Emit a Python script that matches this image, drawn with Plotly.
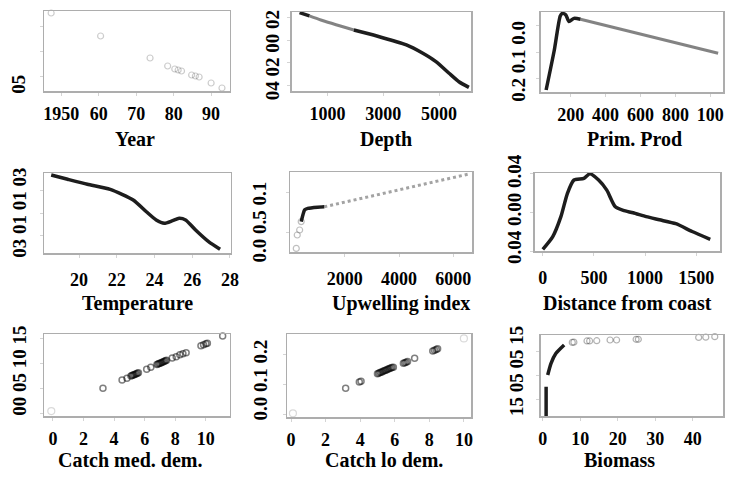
import plotly.graph_objects as go

W, H = 732, 477

# ---------------- data ----------------
year = [1947.3, 1960.5, 1973.7, 1978.4, 1980.3, 1981.2, 1982.1, 1984.8, 1985.8, 1986.8, 1990.0, 1992.9]
year_effect = [7.6, 3.0, -1.4, -3.0, -3.6, -3.8, -4.0, -4.8, -5.0, -5.2, -6.4, -7.4]

depth = [0, 353, 763, 1943, 2767, 3827, 4417, 4887, 5357, 5710, 6067]
depth_effect = [0.244, 0.215, 0.179, 0.09, 0.037, -0.042, -0.116, -0.19, -0.293, -0.368, -0.418]

prim_prod = [59, 106, 140, 153, 172, 190, 219, 256, 1045]
prim_prod_effect = [-0.2425, -0.0925, 0.035, 0.045, 0.039, 0.014, 0.026, 0.023, -0.105]

temperature = [18.52, 19.39, 20.44, 21.65, 22.87, 23.57, 24.09, 24.52, 24.96, 25.31, 25.65, 26.18, 26.87, 27.48]
temperature_effect = [0.3325, 0.295, 0.251, 0.207, 0.114, 0.011, -0.061, -0.09, -0.067, -0.046, -0.061, -0.149, -0.251, -0.318]

upwelling = [211, 247, 335, 393, 455, 516, 636, 1000, 1244, 6575]
upwelling_effect = [-0.041, -0.0075, 0.005, 0.026, 0.0425, 0.055, 0.059, 0.062, 0.063, 0.145]

distance = [0, 96, 177, 241, 305, 402, 460, 546, 626, 707, 787, 883, 1012, 1141, 1301, 1461, 1638]
distance_effect = [-0.048, -0.032, -0.006, 0.024, 0.041, 0.043, 0.049, 0.041, 0.028, 0.007, 0.002,
                   -0.001, -0.006, -0.010, -0.015, -0.025, -0.035]

catch_med = [-0.11, 3.27, 4.52, 4.84, 5.1, 5.17, 5.24, 5.31, 5.38, 5.45, 5.52, 5.59, 6.13, 6.4,
             6.8, 6.87, 6.94, 7.01, 7.08, 7.15, 7.22, 7.29, 7.36, 7.43, 7.8, 8.06, 8.3, 8.5, 8.71,
             9.68, 9.85, 10.0, 10.1, 11.1]
catch_med_effect = [0.05, 0.507, 0.674, 0.709, 0.755, 0.763, 0.773, 0.782, 0.792, 0.80, 0.81, 0.821,
                    0.89, 0.93, 0.985, 0.995, 1.004, 1.013, 1.023, 1.032, 1.041, 1.051, 1.06, 1.07,
                    1.116, 1.143, 1.18, 1.205, 1.224, 1.365, 1.385, 1.405, 1.413, 1.56]

catch_lo = [0.11, 3.16, 3.95, 4.05, 5.0, 5.07, 5.14, 5.21, 5.28, 5.35, 5.42, 5.49, 5.56, 5.63, 5.7,
            5.77, 5.84, 5.92, 6.5, 6.58, 6.66, 6.74, 7.15, 8.2, 8.3, 8.4, 8.48, 10.0]
catch_lo_effect = [0.0025, 0.087, 0.108, 0.111, 0.136, 0.138, 0.14, 0.141, 0.143, 0.145, 0.147, 0.148,
                   0.15, 0.152, 0.154, 0.155, 0.157, 0.158, 0.171, 0.173, 0.175, 0.177, 0.188, 0.213,
                   0.215, 0.218, 0.22, 0.255]

biomass = [0.89, 0.89, 1.31, 2.2, 3.52, 5.7, 7.87, 8.3, 11.8, 12.5, 14.4, 17.95, 19.7, 24.9, 25.5, 41.6, 43.5, 45.9]
biomass_effect = [-1.7, -0.47, 0.02, 0.51, 0.93, 1.28, 1.39, 1.4, 1.45, 1.45, 1.46, 1.49, 1.49, 1.52, 1.52, 1.6, 1.61, 1.63]

x_titles = ["Year", "Depth", "Prim. Prod", "Temperature", "Upwelling index", "Distance from coast",
            "Catch med. dem.", "Catch lo dem.", "Biomass"]
y_labels = ["05", "04 02 00 02", "0.2 0.1 0.0", "03 01 01 03", "0.0 0.5 0.1", "0.04 0.00 0.04",
            "00 05 10 15", "0.0 0.1 0.2", "15 05 05 15"]

x_tickvals = [[1950, 1960, 1970, 1980, 1990], [1000, 3000, 5000], [200, 400, 600, 800, 1000],
              [20, 22, 24, 26, 28], [2000, 4000, 6000], [0, 500, 1000, 1500],
              [0, 2, 4, 6, 8, 10], [0, 2, 4, 6, 8, 10], [0, 10, 20, 30, 40]]
x_ticktext = [["1950", "60", "70", "80", "90"], ["1000", "3000", "5000"], ["200", "400", "600", "800", "100"],
              ["20", "22", "24", "26", "28"], ["2000", "4000", "6000"], ["0", "500", "1000", "1500"],
              ["0", "2", "4", "6", "8", "10"], ["0", "2", "4", "6", "8", "10"], ["0", "10", "20", "30", "40"]]

# ---------------- layout specs ----------------
boxes = [(43, 11, 231, 91), (294, 12, 476, 91), (546, 12, 731, 92),
         (43, 173, 232, 253), (292, 172, 477, 252), (540, 173, 728, 251),
         (43, 334, 231, 416), (289, 334, 476, 417), (546, 335, 731, 416)]
x_ranges = [[1945.5, 1995], [-272, 6160], [27, 1073], [18.16, 28.05], [-20, 6710], [-80, 1734],
            [-0.56, 11.57], [-0.23, 10.44], [-0.6, 48.1]]
y_ranges = [[-8, 8], [-0.45, 0.25], [-0.25, 0.05], [-0.35, 0.35], [-0.05, 0.15], [-0.05, 0.05],
            [-0.05, 1.6], [-0.01, 0.27], [-1.7, 1.7]]
standoffs = [3, 3, 3, 7, 7, 7, 3, 3, 3]
title_pos = [(135, 139), (389, 139), (641, 139), (137, 303), (405, 303), (634, 303),
             (130, 460), (387, 460), (626, 460)]
ylab_pos = [(17, 84), (274, 55), (523, 61), (17, 213), (261, 222), (519, 209),
            (17, 371), (262, 380), (521, 371)]

FONT = "Liberation Serif"
DARK = dict(color="rgba(12,12,12,0.93)", width=3.5, shape="spline", smoothing=0.6)
MID = dict(color="rgba(30,30,30,0.55)", width=3, shape="spline", smoothing=0.6)
DOTTED = dict(color="rgba(50,50,50,0.45)", width=3, dash="dot")
FRAME = "#adadad"


def circles(alpha=0.45, size=7, width=1.2):
    return dict(symbol="circle-open", size=size, color=f"rgba(0,0,0,{alpha})", line=dict(width=width))


fig = go.Figure()


def ax(i):
    return ("x" if i == 0 else f"x{i + 1}"), ("y" if i == 0 else f"y{i + 1}")


def add(i, xs, ys, **kw):
    xa, ya = ax(i)
    fig.add_trace(go.Scatter(x=xs, y=ys, xaxis=xa, yaxis=ya, showlegend=False, hoverinfo="skip", **kw))


# Year: faint circles
add(0, year, year_effect, mode="markers", marker=circles(0.2, 6), cliponaxis=False)
# Depth
add(1, depth[:2], depth_effect[:2], mode="lines", line=DARK)
add(1, depth[1:4], depth_effect[1:4], mode="lines", line=MID)
add(1, depth[3:], depth_effect[3:], mode="lines", line=DARK)
# Prim. Prod
add(2, prim_prod[:8], prim_prod_effect[:8], mode="lines", line=DARK)
add(2, prim_prod[7:], prim_prod_effect[7:], mode="lines", line=MID)
# Temperature
add(3, temperature, temperature_effect, mode="lines", line=DARK)
# Upwelling
add(4, upwelling[:4], upwelling_effect[:4], mode="markers", marker=circles(0.25, 6), cliponaxis=False)
add(4, upwelling[3:9], upwelling_effect[3:9], mode="lines", line=DARK)
add(4, upwelling[8:], upwelling_effect[8:], mode="lines", line=DOTTED)
# Distance from coast
add(5, distance, distance_effect, mode="lines", line=DARK)
# Catch med. dem.
add(6, catch_med[:1], catch_med_effect[:1], mode="markers", marker=circles(0.15, 7), cliponaxis=False)
add(6, catch_med[1:], catch_med_effect[1:], mode="markers", marker=circles(0.5, 6, 1.5), cliponaxis=False)
# Catch lo dem.
add(7, [catch_lo[0], catch_lo[-1]], [catch_lo_effect[0], catch_lo_effect[-1]], mode="markers",
    marker=circles(0.15, 7), cliponaxis=False)
add(7, catch_lo[1:-1], catch_lo_effect[1:-1], mode="markers", marker=circles(0.5, 6, 1.5), cliponaxis=False)
# Biomass
add(8, biomass[:2], biomass_effect[:2], mode="lines", line=DARK)
add(8, biomass[2:6], biomass_effect[2:6], mode="lines", line=DARK)
add(8, biomass[6:], biomass_effect[6:], mode="markers", marker=circles(0.3, 6), cliponaxis=False)

layout = dict(width=W, height=H, margin=dict(l=0, r=0, t=0, b=0),
              paper_bgcolor="white", plot_bgcolor="white", showlegend=False)

annotations = []
for i in range(9):
    x0, y0, x1, y1 = boxes[i]
    xa, ya = ax(i)
    xkey = "xaxis" if i == 0 else f"xaxis{i + 1}"
    ykey = "yaxis" if i == 0 else f"yaxis{i + 1}"
    layout[xkey] = dict(domain=[x0 / W, x1 / W], anchor=ya, range=x_ranges[i],
                        tickmode="array", tickvals=x_tickvals[i],
                        ticktext=[f"<b>{t}</b>" for t in x_ticktext[i]],
                        showline=True, mirror=True, linecolor=FRAME, linewidth=1.5,
                        ticks="outside", ticklen=3, tickcolor="#d4d4d4", tickwidth=1,
                        ticklabelstandoff=standoffs[i],
                        tickfont=dict(family=FONT, size=18, color="black"),
                        showgrid=False, zeroline=False, fixedrange=True)
    layout[ykey] = dict(domain=[1 - y1 / H, 1 - y0 / H], anchor=xa, range=y_ranges[i],
                        showticklabels=False, showline=True, mirror=True, linecolor=FRAME,
                        linewidth=1.5, ticks="outside", ticklen=3, tickcolor="#d4d4d4", nticks=4,
                        showgrid=False, zeroline=False, fixedrange=True)
    tx, ty = title_pos[i]
    annotations.append(dict(text=f"<b>{x_titles[i]}</b>", x=tx / W, y=1 - ty / H, xref="paper", yref="paper",
                            xanchor="center", yanchor="middle", showarrow=False,
                            font=dict(family=FONT, size=20, color="black")))
    lx, ly = ylab_pos[i]
    annotations.append(dict(text=f"<b>{y_labels[i]}</b>", x=lx / W, y=1 - ly / H, xref="paper", yref="paper",
                            xanchor="center", yanchor="middle", showarrow=False, textangle=-90,
                            font=dict(family=FONT, size=19, color="black")))

layout["annotations"] = annotations
fig.update_layout(**layout)
fig.write_html("out.html", config={"displayModeBar": False, "staticPlot": True},
               post_script="document.body.style.margin='0px';document.body.style.overflow='hidden';")
